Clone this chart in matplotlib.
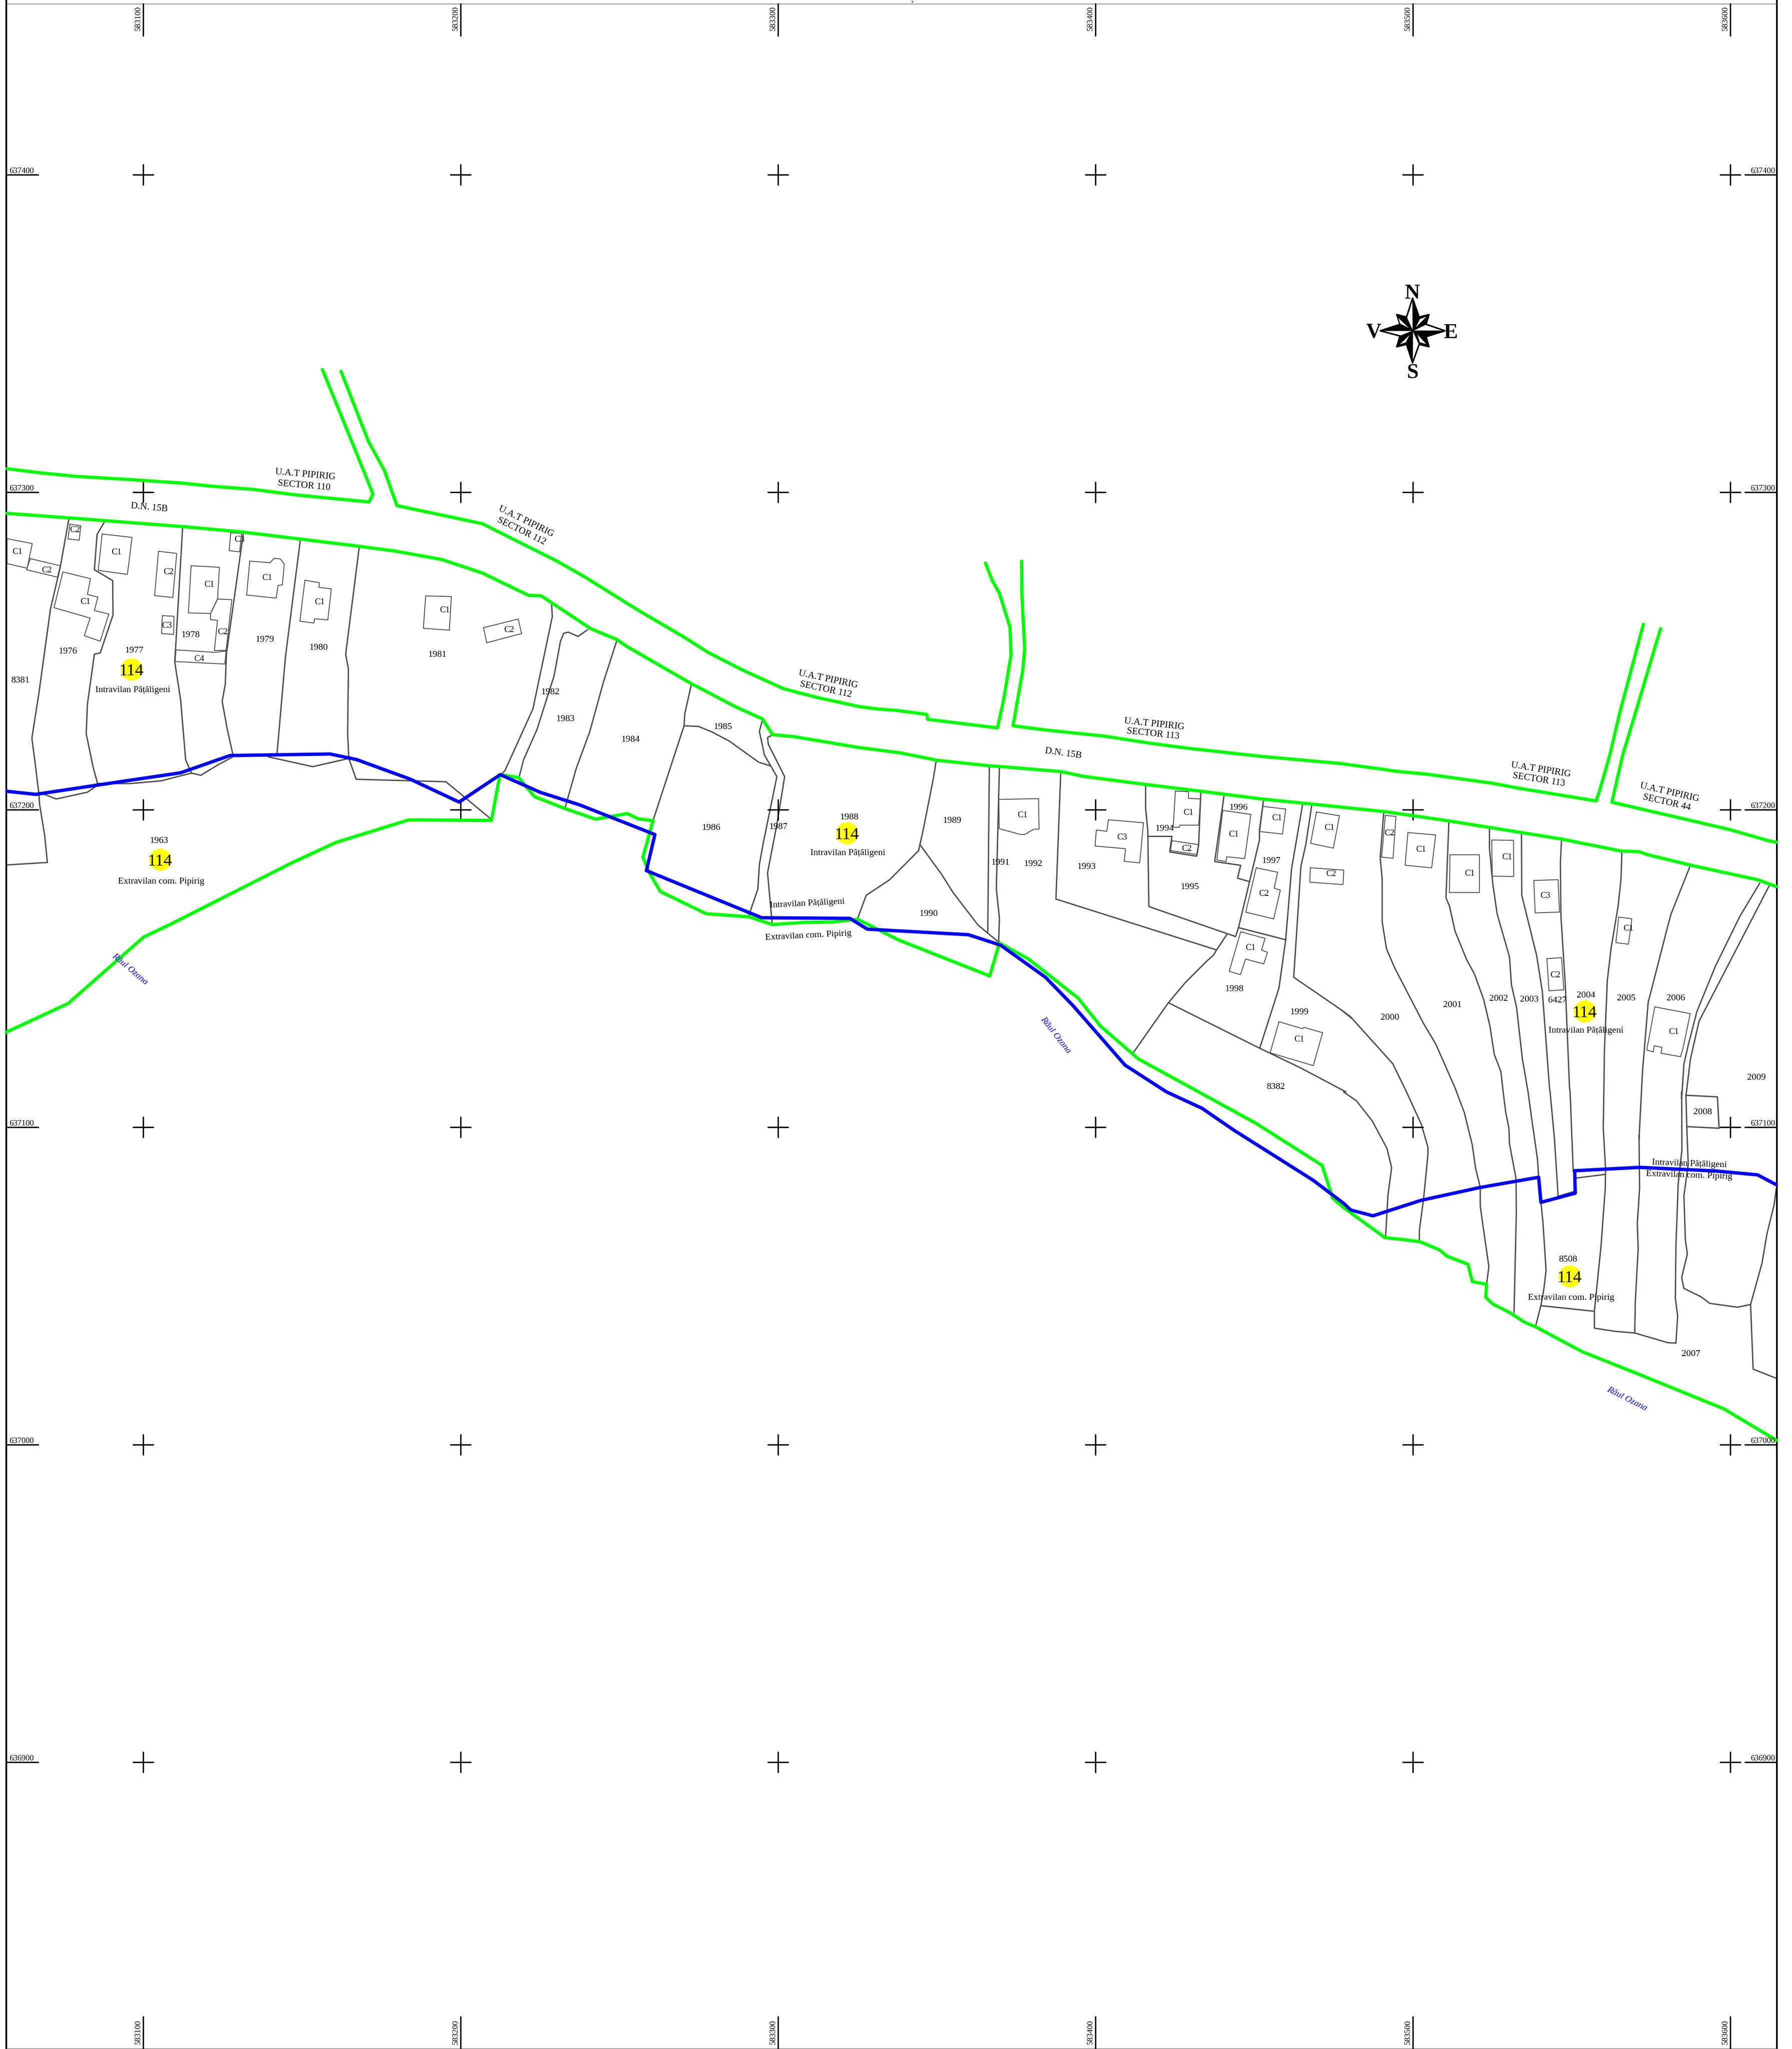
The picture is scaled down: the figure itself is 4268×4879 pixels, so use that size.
"""Cadastral sheet: parcels, buildings, road and limit lines on the Stereo-70 grid."""

import matplotlib
matplotlib.use("Agg")
import matplotlib.pyplot as plt

plt.rcParams["font.family"] = ["Liberation Serif", "DejaVu Serif"]

# grid values
EASTINGS = [583100, 583200, 583300, 583400, 583500, 583600]
NORTHINGS = [637400, 637300, 637200, 637100, 637000, 636900]

WINDOWS = {
    "a": (0, 1050, 1.081, 1.363),
    "b": (1150, 1200, 1.081, 1.363),
    "c": (2300, 1600, 1.568, 1.568),
    "d": (3200, 1800, 1.468, 1.568),
    "e": (3200, 2600, 1.468, 1.742),
    "r": (3200, 620, 3.0, 3.0),
}

# road and limit lines (green)
ROAD_N_WEST = [("a", [(18, 90), (100, 103), (195, 115), (330, 125), (470, 137), (545, 147), (650, 157), (760, 175),
                      (950, 198), (960, 173), (950, 140), (905, 0), (830, -232)])]
ROAD_N_MID = [("a", [(878, -226), (948, 0), (990, 97), (1022, 210), (1240, 268)]),
              ("b", [(0, 65), (190, 185), (260, 235), (400, 345), (515, 430), (580, 482), (670, 540), (775, 600),
                     (860, 628), (970, 658), (1020, 666), (1065, 670), (1143, 683), (1145, 699), (1325, 727),
                     (1340, 640), (1360, 490), (1357, 400), (1330, 290), (1312, 250), (1294, 192)])]
ROAD_N_EAST = [("b", [(1387, 186), (1388, 300), (1395, 470), (1390, 540), (1365, 720)]),
               ("c", [(300, 217), (520, 240), (680, 265), (830, 285), (1100, 315), (1400, 342), (1568, 365)]),
               ("d", [(180, 57), (290, 68), (520, 102), (620, 122), (883, 168), (895, 130), (930, 0), (966, -163),
                      (1048, -491)])]
ROAD_N_FAR = [("d", [(1108, -475), (1021, -163), (975, 0), (938, 173), (1210, 240), (1350, 275), (1490, 318),
                     (1513, 322)])]
ROAD_S = [("a", [(18, 235), (180, 250), (470, 278), (620, 295), (770, 318), (925, 342), (1020, 358), (1138, 385),
                 (1245, 430)]),
          ("b", [(0, 225), (118, 297), (150, 298), (278, 405), (345, 440), (370, 462), (535, 582), (650, 658),
                 (720, 698), (746, 749), (800, 755), (965, 790), (1075, 808), (1170, 832), (1305, 850), (1330, 852)]),
          ("c", [(355, 372), (440, 390), (670, 420), (875, 445), (1110, 475), (1260, 490), (1568, 522)]),
          ("d", [(370, 243), (510, 267), (760, 310), (970, 355), (1035, 358), (1060, 368), (1210, 407), (1450, 463),
                 (1513, 488)])]
RIVER_LIMIT = [("a", [(16, 1919), (175, 1826), (370, 1610), (440, 1568), (750, 1370), (865, 1303), (1052, 1230)]),
               ("b", [(22, 1027), (44, 878), (92, 888), (133, 950), (210, 988), (290, 1023), (372, 1005), (400, 1022),
                      (438, 1028), (412, 1147), (430, 1200), (457, 1258), (575, 1330), (685, 1340), (745, 1365),
                      (830, 1358), (900, 1357), (965, 1348), (1070, 1415), (1305, 1532), (1330, 1425)]),
               ("c", [(235, 1072), (420, 1218), (503, 1322), (645, 1445), (870, 1568)]),
               ("e", [(-304, 132), (-75, 305), (-38, 441), (0, 480), (145, 605), (205, 612), (268, 622), (335, 655),
                      (362, 682), (435, 715), (450, 787), (500, 798), (497, 852), (522, 880), (580, 915), (632, 955),
                      (672, 975), (835, 1078), (1040, 1175), (1330, 1315), (1513, 1445)])]
GREEN_LINES = [ROAD_N_WEST, ROAD_N_MID, ROAD_N_EAST, ROAD_N_FAR, ROAD_S, RIVER_LIMIT]

# intravilan limit (blue)
INTRAVILAN_LIMIT = [("a", [(18, 1137), (92, 1147), (250, 1117), (465, 1077), (592, 1021), (850, 1016), (918, 1034),
                           (1055, 1097), (1182, 1172), (1288, 1083)]),
                    ("b", [(148, 936), (250, 977), (443, 1073), (421, 1190), (718, 1343), (945, 1345), (990, 1380),
                           (1250, 1398), (1333, 1432)]),
                    ("c", [(298, 1140), (400, 1245), (595, 1468), (750, 1568)]),
                    ("e", [(-495, 68), (-382, 160), (-107, 366), (0, 462), (25, 490), (103, 514), (270, 450),
                           (475, 397), (605, 370), (682, 354), (690, 458), (810, 420), (808, 327), (1035, 313),
                           (1300, 328), (1447, 344), (1513, 385)])]

# parcel boundaries
PARCELS = [
    [("a", [(177, 255), (155, 410), (130, 545), (100, 820), (82, 965), (90, 1040), (100, 1145), (102, 1180),
            (115, 1280), (122, 1368), (18, 1376)])],
    [("a", [(100, 1140), (145, 1162), (225, 1140), (250, 1118)])],
    [("a", [(268, 265), (250, 303), (243, 418), (290, 453), (291, 565), (258, 688), (243, 692), (225, 855),
            (222, 950), (235, 1030), (240, 1060), (252, 1115)])],
    [("a", [(250, 1112), (335, 1112), (415, 1103), (493, 1078), (517, 1085), (563, 1050), (603, 1023)])],
    [("a", [(470, 285), (450, 718), (465, 840), (478, 1035), (493, 1078)])],
    [("a", [(627, 295), (583, 690), (580, 790), (572, 845), (585, 935), (600, 1020)])],
    [("a", [(773, 323), (735, 700), (713, 1018)])],
    [("a", [(925, 343), (890, 692), (897, 740), (895, 950), (898, 1030), (917, 1098), (1148, 1106), (1265, 1228)])],
    [("a", [(690, 1025), (805, 1057), (893, 1032)])],
    [("a", [(1420, 525), (1422, 570), (1372, 870), (1300, 1070), (1288, 1085)])],
    [("b", [(270, 408), (245, 430), (220, 416), (208, 420), (200, 445), (183, 560), (170, 610), (140, 730),
            (105, 830), (93, 888)])],
    [("b", [(345, 443), (310, 580), (275, 740), (240, 860), (212, 985)])],
    [("b", [(537, 585), (520, 680), (518, 720), (438, 1028)])],
    [("b", [(518, 720), (555, 722), (590, 740), (635, 770), (710, 838), (740, 850)])],
    [("b", [(720, 700), (712, 738), (725, 815), (757, 885), (722, 1100), (712, 1170), (708, 1250), (685, 1335)])],
    [("b", [(746, 750), (733, 758), (735, 780), (777, 885), (757, 1040), (733, 1197), (745, 1365)])],
    [("b", [(1167, 835), (1160, 890), (1135, 1050), (1122, 1125), (1047, 1220), (987, 1270), (965, 1345)])],
    [("b", [(1125, 1105), (1180, 1200), (1210, 1260), (1275, 1367), (1328, 1422)])],
    [("b", [(1304, 855), (1300, 1390)])],
    [("b", [(1330, 855), (1322, 1250), (1330, 1345), (1328, 1420)])],
    [("c", [(355, 375), (337, 848), (937, 1038)])],
    [("c", [(672, 425), (672, 510), (680, 590), (684, 876), (1008, 988), (1020, 950), (1097, 628), (1097, 590),
            (1112, 480)])],
    [("c", [(1020, 955), (1195, 1000)])],
    [("c", [(977, 978), (937, 1038), (925, 1058), (900, 1080), (820, 1160), (757, 1235), (627, 1420)])],
    [("c", [(757, 1235), (1098, 1405), (1250, 1478), (1420, 1568)]),
     ("e", [(0, 0), (45, 37), (100, 120), (152, 235), (168, 315), (155, 430), (147, 600)])],
    [("c", [(1258, 495), (1217, 735), (1195, 1000), (1170, 1180), (1098, 1405)])],
    [("c", [(1292, 500), (1270, 645), (1252, 725), (1225, 1140), (1400, 1260), (1442, 1292)]),
     ("e", [(0, -333), (30, -304), (172, -117), (220, 0), (272, 135), (295, 230), (295, 260), (280, 440), (265, 575),
            (265, 620)])],
    [("c", [(680, 614), (770, 614), (762, 672), (862, 688), (870, 645), (878, 452)])],
    [("c", [(965, 460), (930, 708), (1027, 722), (1015, 770), (1060, 783)])],
    [("d", [(140, 215), (128, 380), (135, 460), (135, 620), (150, 720), (178, 790), (280, 1000), (322, 1075),
            (390, 1240)]),
     ("e", [(395, 0), (422, 85), (450, 220), (462, 320), (478, 395), (478, 475), (488, 560), (508, 725), (500, 798)])],
    [("d", [(368, 250), (358, 530), (370, 560), (390, 655), (430, 760), (458, 815), (490, 910), (512, 1010),
            (527, 1115), (550, 1178)]),
     ("e", [(558, 0), (567, 85), (578, 150), (580, 215), (603, 360), (604, 500), (596, 915)])],
    [("d", [(510, 270), (510, 345), (522, 480), (537, 590), (580, 750), (587, 855), (605, 940), (625, 1130)]),
     ("e", [(645, 0), (660, 130), (678, 280), (682, 354), (690, 458), (697, 540), (708, 740), (700, 820), (690, 885),
            (672, 970)])],
    [("d", [(622, 290), (623, 520), (675, 745), (695, 880), (720, 1240)]),
     ("e", [(722, 0), (737, 190), (750, 430)])],
    [("d", [(762, 315), (758, 400), (760, 600), (775, 850), (790, 1240)]),
     ("e", [(792, 0), (803, 330)])],
    [("e", [(750, 433), (803, 414)])],
    [("d", [(973, 362), (970, 460), (960, 560), (935, 720), (922, 840), (912, 1100)]),
     ("e", [(910, 0), (908, 150), (916, 320), (915, 400), (900, 640), (877, 910), (877, 980), (948, 993), (1018, 1000),
            (1133, 1040), (1162, 1042), (1168, 930), (1160, 855), (1162, 640), (1170, 380), (1183, 240), (1182, 0)])],
    [("d", [(1212, 410), (1145, 590), (1130, 650), (1065, 920), (1045, 1180), (1033, 1430)]),
     ("e", [(1033, 180), (1035, 400), (1027, 545), (1030, 650), (1020, 870), (1018, 1000)])],
    [("e", [(815, 357), (916, 342)])],
    [("e", [(692, 887), (877, 910)])],
    [("d", [(1455, 475), (1385, 600), (1300, 785), (1235, 955), (1205, 1080), (1190, 1150), (1182, 1280)]),
     ("e", [(1182, 0)])],
    [("d", [(1488, 485), (1243, 990), (1213, 1130), (1197, 1270)]),
     ("e", [(1200, 145), (1205, 300), (1190, 430), (1195, 615), (1202, 672), (1182, 770), (1190, 815), (1250, 850),
            (1280, 877), (1377, 893), (1423, 882), (1463, 710), (1480, 590), (1505, 470), (1513, 400)])],
    [("e", [(1423, 882), (1432, 1150), (1513, 1188)])],
    [("d", [(1197, 1267), (1307, 1273), (1313, 1390), (1200, 1384)])],
]

# building outlines, closed when drawn
BUILDINGS = [
    ("a", [(18, 317), (83, 333), (70, 413), (18, 398)]),
    ("a", [(78, 382), (155, 405), (148, 442), (68, 418)]),
    ("a", [(180, 270), (208, 275), (204, 322), (175, 318)]),
    ("a", [(263, 302), (340, 313), (328, 433), (253, 420)]),
    ("a", [(408, 358), (455, 365), (445, 508), (398, 502)]),
    ("a", [(162, 425), (233, 447), (225, 498), (252, 507), (243, 550), (280, 562), (258, 650), (217, 632), (232, 575),
           (139, 541)]),
    ("a", [(418, 567), (448, 569), (447, 628), (416, 625)]),
    ("a", [(492, 405), (565, 410), (560, 513), (542, 560), (485, 558)]),
    ("a", [(560, 513), (597, 515), (582, 680), (552, 680), (560, 582), (542, 580), (542, 560)]),
    ("a", [(453, 678), (552, 686), (582, 682), (579, 724), (451, 716)]),
    ("a", [(594, 298), (622, 300), (617, 360), (590, 356)]),
    ("a", [(643, 390), (695, 395), (706, 381), (722, 383), (732, 400), (727, 467), (716, 469), (711, 510), (635, 500)]),
    ("a", [(785, 452), (822, 460), (821, 475), (853, 480), (844, 581), (810, 577), (808, 591), (772, 585)]),
    ("a", [(1096, 503), (1162, 505), (1157, 614), (1090, 608)]),
    ("a", [(1245, 606), (1334, 578), (1343, 625), (1253, 655)]),
    ("c", [(124, 476), (272, 473), (274, 587), (255, 587), (220, 607), (205, 607), (125, 585)]),
    ("c", [(533, 552), (664, 563), (650, 713), (592, 707), (597, 660), (483, 650), (488, 590), (527, 595)]),
    ("c", [(783, 445), (832, 447), (832, 472), (877, 474), (870, 572), (800, 572), (798, 580), (775, 580)]),
    ("c", [(770, 630), (870, 645), (865, 682), (765, 667)]),
    ("c", [(960, 517), (1065, 532), (1042, 697), (975, 690), (972, 708), (938, 702)]),
    ("c", [(1110, 502), (1195, 512), (1183, 605), (1098, 596)]),
    ("c", [(1310, 523), (1396, 537), (1373, 658), (1288, 640)]),
    ("c", [(1287, 731), (1412, 740), (1409, 794), (1285, 785)]),
    ("c", [(1085, 731), (1165, 748), (1152, 807), (1175, 815), (1150, 922), (1046, 897)]),
    ("c", [(1027, 970), (1118, 995), (1105, 1038), (1127, 1047), (1113, 1090), (1045, 1072), (1026, 1130), (984, 1118)]),
    ("c", [(1170, 1306), (1258, 1332), (1263, 1327), (1333, 1347), (1298, 1470), (1137, 1422)]),
    ("d", [(146, 222), (183, 226), (173, 382), (133, 378)]),
    ("d", [(225, 286), (322, 295), (308, 418), (215, 408)]),
    ("d", [(372, 369), (475, 369), (475, 510), (370, 510)]),
    ("d", [(518, 314), (594, 315), (595, 450), (520, 449)]),
    ("d", [(665, 465), (750, 462), (755, 583), (670, 586)]),
    ("d", [(711, 757), (762, 753), (770, 873), (718, 877)]),
    ("d", [(962, 602), (1008, 608), (996, 703), (952, 697)]),
    ("d", [(1088, 937), (1212, 962), (1187, 1090), (1178, 1123), (1110, 1110), (1113, 1088), (1086, 1082), (1083, 1105),
           (1060, 1098)]),
]

# labels: window, x, y, text
PARCEL_LABELS = [
    ("a", 174, 680, "1976"), ("a", 345, 677, "1977"), ("a", 490, 627, "1978"), ("a", 681, 642, "1979"),
    ("a", 820, 668, "1980"), ("a", 1126, 691, "1981"), ("a", 52, 774, "8381"), ("a", 1417, 812, "1982"),
    ("a", 1455, 900, "1983"), ("a", 409, 1295, "1963"), ("b", 380, 762, "1984"), ("b", 618, 721, "1985"),
    ("b", 587, 1048, "1986"), ("b", 760, 1045, "1987"), ("b", 943, 1014, "1988"), ("b", 1208, 1025, "1989"),
    ("b", 1147, 1328, "1990"), ("c", 129, 708, "1991"), ("c", 251, 714, "1992"), ("c", 450, 725, "1993"),
    ("c", 743, 581, "1994"), ("c", 836, 800, "1995"), ("c", 1018, 504, "1996"), ("c", 1140, 702, "1997"),
    ("c", 1002, 1180, "1998"), ("c", 1245, 1267, "1999"), ("c", 1158, 1546, "8382"), ("d", 162, 973, "2000"),
    ("d", 380, 927, "2001"), ("d", 542, 903, "2002"), ("d", 649, 907, "2003"), ("d", 748, 910, "6427"),
    ("d", 848, 891, "2004"), ("d", 988, 901, "2005"), ("d", 1162, 901, "2006"), ("d", 1443, 1198, "2009"),
    ("d", 1255, 1326, "2008"), ("e", 785, 691, "8508"), ("e", 1214, 1083, "2007"),
]
BUILDING_LABELS = [
    ("a", 45, 357, "C1"), ("a", 120, 417, "C2"), ("a", 193, 286, "C2"), ("a", 300, 358, "C1"), ("a", 434, 423, "C2"),
    ("a", 220, 519, "C1"), ("a", 430, 597, "C3"), ("a", 539, 463, "C1"), ("a", 573, 618, "C2"), ("a", 513, 704, "C4"),
    ("a", 617, 318, "C3"), ("a", 688, 441, "C1"), ("a", 823, 520, "C1"), ("a", 1145, 547, "C1"), ("a", 1310, 610, "C2"),
    ("c", 212, 532, "C1"), ("c", 584, 615, "C3"), ("c", 831, 522, "C1"), ("c", 825, 657, "C2"), ("c", 1000, 604, "C1"),
    ("c", 1162, 543, "C1"), ("c", 1114, 825, "C2"), ("c", 1064, 1027, "C1"), ("c", 1246, 1369, "C1"),
    ("c", 1358, 579, "C1"), ("c", 1365, 751, "C2"), ("d", 160, 286, "C2"), ("d", 270, 347, "C1"), ("d", 441, 436, "C1"),
    ("d", 572, 375, "C1"), ("d", 705, 519, "C3"), ("d", 740, 815, "C2"), ("d", 995, 642, "C1"), ("d", 1154, 1027, "C1"),
]
SECTOR_MARKERS = [("a", 338, 742), ("a", 412, 1359), ("b", 937, 1068), ("d", 843, 953), ("e", 790, 764)]
SECTOR_NUMBER = "114"
# window, x, y, text, rotation
AREA_LABELS = [
    ("a", 342, 805, "Intravilan Pâțâligeni", 0), ("a", 415, 1427, "Extravilan com. Pipirig", 0),
    ("b", 940, 1130, "Intravilan Pâțâligeni", 0), ("b", 835, 1294, "Intravilan Pâțâligeni", 3),
    ("b", 838, 1398, "Extravilan com. Pipirig", 3), ("d", 847, 1023, "Intravilan Pâțâligeni", 0),
    ("e", 795, 850, "Extravilan com. Pipirig", 0), ("e", 1209, 295, "Intravilan Pâțâligeni", -2),
    ("e", 1208, 343, "Extravilan com. Pipirig", -2),
]
ROAD_LABELS = [
    ("a", 786, 106, "U.A.T PIPIRIG", -5), ("a", 783, 141, "SECTOR 110", -5), ("a", 385, 212, "D.N. 15B", -5),
    ("a", 1356, 258, "U.A.T PIPIRIG", -26), ("a", 1344, 290, "SECTOR 112", -26),
    ("b", 890, 566, "U.A.T PIPIRIG", -12), ("b", 883, 599, "SECTOR 112", -12),
    ("c", 705, 190, "U.A.T PIPIRIG", -6), ("c", 700, 227, "SECTOR 113", -6), ("c", 365, 300, "D.N. 15B", -8),
    ("d", 690, 48, "U.A.T PIPIRIG", -9), ("d", 683, 85, "SECTOR 113", -9),
    ("d", 1140, 132, "U.A.T PIPIRIG", -13), ("d", 1130, 170, "SECTOR 44", -13),
]
RIVER_LABELS = [("a", 336, 1712, "Râul Ozana", -40), ("c", 338, 1355, "Râul Ozana", -52),
                ("e", 992, 1270, "Râul Ozana", -27)]

# compass rose
ROSE_CENTER = (495, 503)
ROSE_OUTLINE = [(493, 270), (540, 405), (610, 387), (590, 457), (725, 503), (590, 545), (610, 617), (540, 600),
                (493, 732), (450, 600), (380, 617), (403, 540), (262, 503), (403, 457), (380, 387), (450, 405)]
ROSE_BLACK = [
    [ROSE_CENTER, (493, 270), (540, 405)], [ROSE_CENTER, (725, 503), (590, 545)],
    [ROSE_CENTER, (493, 732), (450, 600)], [ROSE_CENTER, (262, 503), (403, 457)],
    [ROSE_CENTER, (540, 405), (610, 387), (590, 457)], [ROSE_CENTER, (590, 545), (610, 617), (540, 600)],
    [ROSE_CENTER, (450, 600), (380, 617), (403, 540)], [ROSE_CENTER, (403, 457), (380, 387), (450, 405)],
]
ROSE_WHITE = [
    [(516, 478), (545, 420), (592, 402)], [(528, 530), (590, 598), (545, 585)],
    [(470, 535), (402, 600), (445, 585)], [(465, 482), (392, 412), (405, 452)],
]
ROSE_LETTERS = [(493, 220, "N"), (765, 503, "E"), (493, 787, "S"), (215, 500, "V")]

SHEET_W, SHEET_H = 4268, 4879
METRES_PER_PX = 1 / 7.56


def easting(x):
    return 583100 + (x - 340.7) * METRES_PER_PX


def northing(y):
    return 637400 - (y - 416) * METRES_PER_PX


def to_map(window, pts):
    left, top, sx, sy = WINDOWS[window]
    return [(easting(left + px / sx), northing(top + py / sy)) for px, py in pts]


def chain(parts):
    xy = []
    for window, pts in parts:
        xy += to_map(window, pts)
    return zip(*xy)


def label(ax, window, x, y, text, size, rotation=0, **kw):
    ex, ny = to_map(window, [(x, y)])[0]
    ax.text(ex, ny, text, ha="center", va="center_baseline", fontsize=size, rotation=rotation,
            rotation_mode="anchor", zorder=8, **kw)


fig = plt.figure(figsize=(SHEET_W / 100, SHEET_H / 100), dpi=100, facecolor="white")
ax = fig.add_axes([0, 0, 1, 1])
ax.set_xlim(easting(0), easting(SHEET_W))
ax.set_ylim(northing(SHEET_H), northing(0))
ax.axis("off")

round_line = dict(solid_capstyle="round", solid_joinstyle="round")

# sheet frame
left, right, top, bottom = easting(14.5), easting(4232), northing(8.7), northing(4878)
ax.plot([left, left], [northing(0), northing(SHEET_H)], color="black", lw=3.0, zorder=3)
ax.plot([right, right], [northing(0), northing(SHEET_H)], color="black", lw=3.0, zorder=3)
ax.plot([left, right], [top, top], color="#555555", lw=0.9, zorder=3)
ax.plot([left, right], [bottom, bottom], color="#555555", lw=0.9, zorder=3)
ax.text(easting(2173), northing(0.5), "y", ha="center", va="top", fontsize=6.5, fontweight="bold", zorder=8)

# grid crosses and border ticks
CROSS = 24 * METRES_PER_PX
EDGE = 76 * METRES_PER_PX
for e in EASTINGS:
    for n in NORTHINGS:
        ax.plot([e - CROSS, e + CROSS], [n, n], color="black", lw=2.4, zorder=3, **round_line)
        ax.plot([e, e], [n - CROSS, n + CROSS], color="black", lw=2.4, zorder=3, **round_line)
    ax.plot([e, e], [top, top - EDGE], color="black", lw=2.4, zorder=3, **round_line)
    ax.plot([e, e], [bottom, bottom + EDGE], color="black", lw=2.4, zorder=3, **round_line)
    ax.text(e - 11 * METRES_PER_PX, top - 35 * METRES_PER_PX, str(e), rotation=90,
            ha="center", va="center", fontsize=14, zorder=8)
    ax.text(e - 11 * METRES_PER_PX, bottom + 39 * METRES_PER_PX, str(e), rotation=90,
            ha="center", va="center", fontsize=14, zorder=8)
for n in NORTHINGS:
    ax.plot([left, left + EDGE], [n, n], color="black", lw=2.4, zorder=3, **round_line)
    ax.plot([right, right - EDGE], [n, n], color="black", lw=2.4, zorder=3, **round_line)
    ax.text(left + 37 * METRES_PER_PX, n, str(n), ha="center", va="bottom", fontsize=14, zorder=8)
    ax.text(right - 34 * METRES_PER_PX, n, str(n), ha="center", va="bottom", fontsize=14, zorder=8)

# parcels and buildings
for parts in PARCELS:
    xs, ys = chain(parts)
    ax.plot(xs, ys, color="#4d4d4d", lw=2.3, zorder=2, **round_line)
for window, pts in BUILDINGS:
    xs, ys = zip(*to_map(window, pts + pts[:1]))
    ax.plot(xs, ys, color="#4d4d4d", lw=1.5, zorder=2, **round_line)

# limits
for parts in GREEN_LINES:
    xs, ys = chain(parts)
    ax.plot(xs, ys, color="#00FF00", lw=5.6, zorder=5, **round_line)
xs, ys = chain(INTRAVILAN_LIMIT)
ax.plot(xs, ys, color="#0000FF", lw=5.8, zorder=6, **round_line)

# labels
for window, x, y, text in PARCEL_LABELS:
    label(ax, window, x, y, text, 16)
for window, x, y, text in BUILDING_LABELS:
    label(ax, window, x, y, text, 15)
for window, x, y, text, rot in AREA_LABELS:
    label(ax, window, x, y, text, 15.8, rot)
for window, x, y, text, rot in ROAD_LABELS:
    label(ax, window, x, y, text, 16.5, rot)
for window, x, y, text, rot in RIVER_LABELS:
    label(ax, window, x, y, text, 15.8, rot, color="#0000FF", style="italic")
for window, x, y in SECTOR_MARKERS:
    ex, ny = to_map(window, [(x, y)])[0]
    ax.scatter([ex], [ny], s=1450, color="#FFFF00", linewidths=0, zorder=7)
    label(ax, window, x, y, SECTOR_NUMBER, 29)

# compass
xs, ys = zip(*to_map("r", ROSE_OUTLINE + ROSE_OUTLINE[:1]))
ax.fill(xs, ys, facecolor="white", edgecolor="black", lw=2.6, joinstyle="round", zorder=4)
for tri in ROSE_BLACK:
    xs, ys = zip(*to_map("r", tri))
    ax.fill(xs, ys, facecolor="black", edgecolor="black", lw=0.8, zorder=4)
for tri in ROSE_WHITE:
    xs, ys = zip(*to_map("r", tri))
    ax.fill(xs, ys, facecolor="white", edgecolor="none", zorder=4)
for x, y, text in ROSE_LETTERS:
    label(ax, "r", x, y, text, 36, fontweight="bold")

fig.savefig("out.png", dpi=100, facecolor="white")
